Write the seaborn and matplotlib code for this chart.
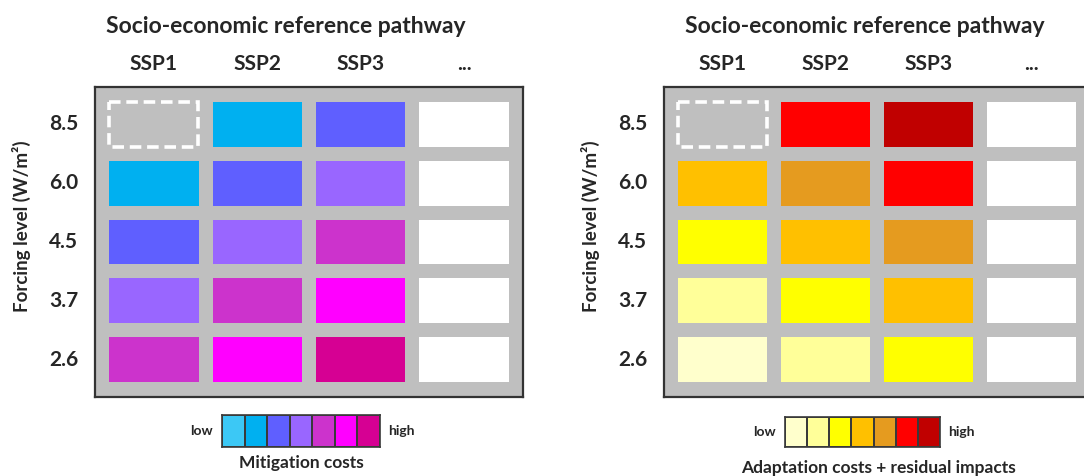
import numpy as np
import pandas as pd
import matplotlib
matplotlib.use("Agg")
import matplotlib.pyplot as plt
from matplotlib.colors import ListedColormap
from matplotlib.patches import Rectangle
import seaborn as sns

# ------------------------------------------------------------------
# data: cost class of every cell (0 = low ... 6 = high)
# SSP1 / 8.5 is not reachable -> nan, "..." column stays blank
# ------------------------------------------------------------------
forcing_levels = ["8.5", "6.0", "4.5", "3.7", "2.6"]
pathways = ["SSP1", "SSP2", "SSP3", "..."]

mitigation_class = [
    [np.nan, 1, 2],
    [1, 2, 3],
    [2, 3, 4],
    [3, 4, 5],
    [4, 5, 6],
]
adaptation_class = [
    [np.nan, 5, 6],
    [3, 4, 5],
    [2, 3, 4],
    [1, 2, 3],
    [0, 1, 2],
]
legend_classes = [0, 1, 2, 3, 4, 5, 6]
BLANK = 7

mitigation_colors = ["#3CC8F5", "#00B0F0", "#5F5FFF", "#9966FF",
                     "#CC33CC", "#FF00FF", "#D60093"]
adaptation_colors = ["#FFFFCC", "#FFFF99", "#FFFF00", "#FFC000",
                     "#E59B1F", "#FF0000", "#C00000"]

GRAY = "#BFBFBF"
TXT = "#262626"
FONT = ["Lato", "DejaVu Sans"]

sns.set_style("white")
plt.rcParams["font.family"] = FONT
plt.rcParams["font.weight"] = "bold"


def draw_panel(ax, classes, colors, title_x):
    values = np.array(classes, dtype=float)
    values = np.column_stack([values, np.full(len(values), BLANK)])
    df = pd.DataFrame(values, index=forcing_levels, columns=pathways)
    cmap = ListedColormap(colors + ["white"])
    sns.heatmap(df, ax=ax, cmap=cmap, vmin=-0.5, vmax=7.5, cbar=False,
                linewidths=10, linecolor=GRAY, square=False)
    ax.set_facecolor(GRAY)
    ax.set_xlim(-0.068, 4.068)
    ax.set_ylim(5.138, -0.138)

    # dashed outline for the cell that cannot be reached
    for r, c in np.argwhere(np.isnan(values)):
        ax.add_patch(Rectangle((c + 0.068, r + 0.12), 1 - 0.136, 1 - 0.24,
                               fill=False, ec="white", lw=2.6,
                               ls=(0, (3.2, 1.6)), zorder=5))

    for sp in ax.spines.values():
        sp.set_visible(True)
        sp.set_color("#333333")
        sp.set_linewidth(1.6)

    ax.xaxis.tick_top()
    ax.tick_params(length=0, labelsize=15, labelcolor=TXT)
    ax.tick_params(axis="x", pad=9)
    ax.tick_params(axis="y", pad=12, labelrotation=0)
    for lab in ax.get_xticklabels() + ax.get_yticklabels():
        lab.set_fontweight("bold")
    ax.set_xlabel("")
    ax.set_ylabel("Forcing level (W/m²)", fontsize=13.5, fontweight="bold",
                  color=TXT, labelpad=12)
    ax.yaxis.set_label_coords(-0.15, 0.55)
    ax.set_title("Socio-economic reference pathway", fontsize=16.5,
                 fontweight="bold", color=TXT, pad=39, x=title_x)


def draw_legend(ax, colors, label, label_x, label_y):
    df = pd.DataFrame([legend_classes])
    sns.heatmap(df, ax=ax, cmap=ListedColormap(colors), vmin=-0.5,
                vmax=6.5, cbar=False, linewidths=1.2, linecolor="#3a3a3a")
    ax.set_xticks([])
    ax.set_yticks([])
    for sp in ax.spines.values():
        sp.set_visible(True)
        sp.set_color("#3a3a3a")
        sp.set_linewidth(1.2)
    ax.text(-0.06, 0.5, "low", transform=ax.transAxes, ha="right",
            va="center", fontsize=10, fontweight="bold", color=TXT)
    ax.text(1.05, 0.5, "high", transform=ax.transAxes, ha="left",
            va="center", fontsize=10, fontweight="bold", color=TXT)
    ax.text(label_x, label_y, label, transform=ax.transAxes, ha="center",
            va="top", fontsize=12.5, fontweight="bold", color=TXT)


W, H = 1084, 476
fig = plt.figure(figsize=(W / 100, H / 100), dpi=100)

ax1 = fig.add_axes([95 / W, 1 - 397 / H, 428 / W, 310 / H])
ax2 = fig.add_axes([664 / W, 1 - 397 / H, 426 / W, 310 / H])
leg1 = fig.add_axes([222 / W, 1 - 447 / H, 158 / W, 32 / H])
leg2 = fig.add_axes([785 / W, 1 - 447 / H, 155 / W, 30 / H])

draw_panel(ax1, mitigation_class, mitigation_colors, 0.446)
draw_panel(ax2, adaptation_class, adaptation_colors, 0.472)
draw_legend(leg1, mitigation_colors, "Mitigation costs", 0.5, -0.25)
draw_legend(leg2, adaptation_colors, "Adaptation costs + residual impacts",
            0.6, -0.42)

fig.savefig("out.png", dpi=100, facecolor="white")
